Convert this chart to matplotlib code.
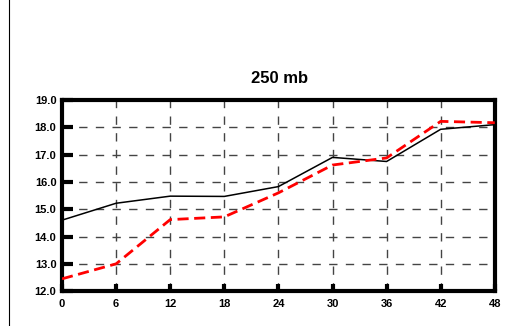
import matplotlib
matplotlib.use("Agg")
import matplotlib.pyplot as plt
from matplotlib.lines import Line2D

# forecast hours and the two series
hours = [0, 6, 12, 18, 24, 30, 36, 42, 48]
black_vals = [14.6, 15.22, 15.48, 15.47, 15.83, 16.9, 16.75, 17.93, 18.1]
red_vals = [12.45, 13.0, 14.62, 14.72, 15.6, 16.62, 16.88, 18.22, 18.17]
yticks = [12, 13, 14, 15, 16, 17, 18, 19]
title = "250 mb"

plt.rcParams['font.family'] = ['Liberation Sans', 'DejaVu Sans']

fig = plt.figure(figsize=(5.05, 3.26), dpi=100)
ax = fig.add_axes([0.1228, 0.107, 0.857, 0.586])

# grid lines
for yv in yticks[1:-1]:
    ax.axhline(yv, color='#444444', lw=1, dashes=(6, 6), zorder=1)
for xv in hours[1:-1]:
    ax.axvline(xv, color='#444444', lw=1, dashes=(6, 6), zorder=1)

ax.plot(hours, black_vals, color='black', lw=1.1, zorder=3)
ax.plot(hours, red_vals, color='red', lw=2, dashes=(4, 2), zorder=4)

ax.set_xlim(0, 48)
ax.set_ylim(12, 19)
ax.set_xticks(hours)
ax.set_yticks(yticks)
ax.set_yticklabels([f"{v:.1f}" for v in yticks])
ax.tick_params(axis='y', direction='in', length=8, width=3, labelsize=8, pad=4)
ax.tick_params(axis='x', direction='in', length=5, width=3, labelsize=8, pad=6)
for lab in ax.get_xticklabels() + ax.get_yticklabels():
    lab.set_fontweight('bold')
for s in ax.spines.values():
    s.set_linewidth(3)

fig.text(0.553, 0.745, title, ha='center', va='baseline', fontsize=12,
         fontweight='bold')

# left border line of the page
fig.add_artist(Line2D([9 / 505, 9 / 505], [0, 1], color='black', lw=0.8))

fig.savefig("out.png", dpi=100)
